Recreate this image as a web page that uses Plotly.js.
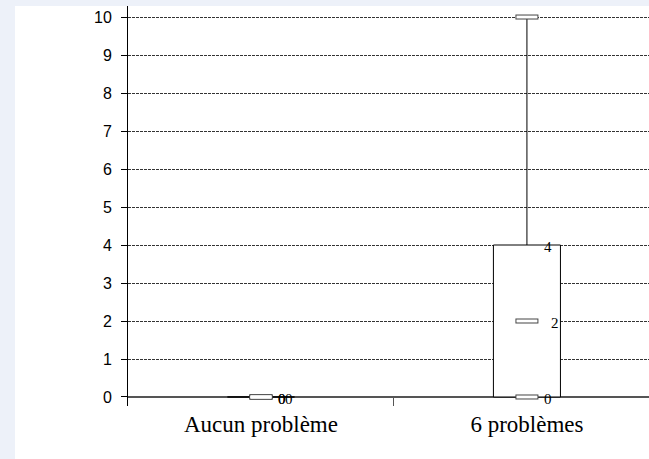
<!DOCTYPE html>
<html>
<head>
<meta charset="utf-8">
<script src="https://cdn.plot.ly/plotly-3.0.1.min.js"></script>
<style>
  html, body { margin: 0; padding: 0; background: #edf1f9; width: 649px; height: 459px; overflow: hidden; }
  #chart { position: absolute; left: 15px; top: 6px; width: 634px; height: 453px; background: #ffffff; }
</style>
</head>
<body>
<div id="chart"></div>
<script>
// ---- data ----
var categories = ["Aucun problème", "6 problèmes"];
var minVals    = [0, 0];
var q1Vals     = [0, 0];
var medianVals = [0, 2];
var q3Vals     = [0, 4];
var maxVals    = [0, 10];

// ---- style constants ----
var BOX_WIDTH = 0.252;
var MIN_BOX_H = 0.001;
var serif = "Liberation Serif, Times New Roman, serif";
var sans  = "Liberation Sans, Arial, sans-serif";

var traces = [];

// box body (q1 -> q3)
traces.push({
  type: "bar",
  x: categories,
  base: q1Vals,
  y: q3Vals.map(function (v, i) { return Math.max(v - q1Vals[i], MIN_BOX_H); }),
  width: BOX_WIDTH,
  marker: { color: "#ffffff", line: { color: "#000000", width: 1 } },
  hoverinfo: "skip",
  showlegend: false
});

// whiskers (q3 -> max, min -> q1)
var wx = [], wy = [];
categories.forEach(function (c, i) {
  wx.push(c, c, null, c, c, null);
  wy.push(q3Vals[i], maxVals[i], null, minVals[i], q1Vals[i], null);
});
traces.push({
  type: "scatter", mode: "lines",
  x: wx, y: wy,
  line: { color: "#000000", width: 1 },
  hoverinfo: "skip", showlegend: false
});

// flat rectangle markers at min, median, max
var mx = [], my = [];
categories.forEach(function (c, i) {
  mx.push(c, c, c);
  my.push(minVals[i], medianVals[i], maxVals[i]);
});
traces.push({
  type: "scatter", mode: "markers",
  x: mx, y: my,
  marker: { symbol: "line-ew", size: 16.4, line: { color: "#444444", width: 5 } },
  hoverinfo: "skip", showlegend: false
});
traces.push({
  type: "scatter", mode: "markers",
  x: mx, y: my,
  marker: { symbol: "line-ew", size: 15, line: { color: "#ffffff", width: 3 } },
  hoverinfo: "skip", showlegend: false
});

// value labels (q3, median, q1)
var annotations = [];
categories.forEach(function (c, i) {
  [[q3Vals[i], 21], [medianVals[i], 28], [q1Vals[i], 21]].forEach(function (p) {
    annotations.push({
      x: c, y: p[0], xref: "x", yref: "y",
      text: String(p[0]), showarrow: false,
      xanchor: "center", yanchor: "middle",
      xshift: p[1], yshift: -2,
      font: { family: serif, size: 15, color: "#000000" }
    });
  });
});

var layout = {
  width: 634, height: 453,
  margin: { l: 113, r: 0, t: 0, b: 53 },
  paper_bgcolor: "#ffffff",
  plot_bgcolor: "#ffffff",
  barmode: "overlay",
  showlegend: false,
  xaxis: {
    type: "category",
    range: [-0.5, 1.459],
    showgrid: false, zeroline: false, showline: false,
    ticks: "inside", tickson: "boundaries", ticklen: 8, tickwidth: 1, tickcolor: "#555555",
    ticklabelstandoff: 2,
    tickfont: { family: serif, size: 23, color: "#000000" },
    fixedrange: true
  },
  yaxis: {
    range: [-0.237, 10.29],
    dtick: 1, tick0: 0,
    showgrid: true, gridcolor: "#333333", gridwidth: 1, griddash: "3px,1px",
    zeroline: true, zerolinecolor: "#555555", zerolinewidth: 2,
    showline: true, linecolor: "#000000", linewidth: 1,
    ticks: "outside", ticklen: 6, tickwidth: 1, tickcolor: "#000000",
    ticklabelstandoff: 6,
    tickfont: { family: sans, size: 16, color: "#000000" },
    fixedrange: true
  },
  annotations: annotations
};

Plotly.newPlot("chart", traces, layout, { displayModeBar: false, staticPlot: true });
</script>
</body>
</html>
